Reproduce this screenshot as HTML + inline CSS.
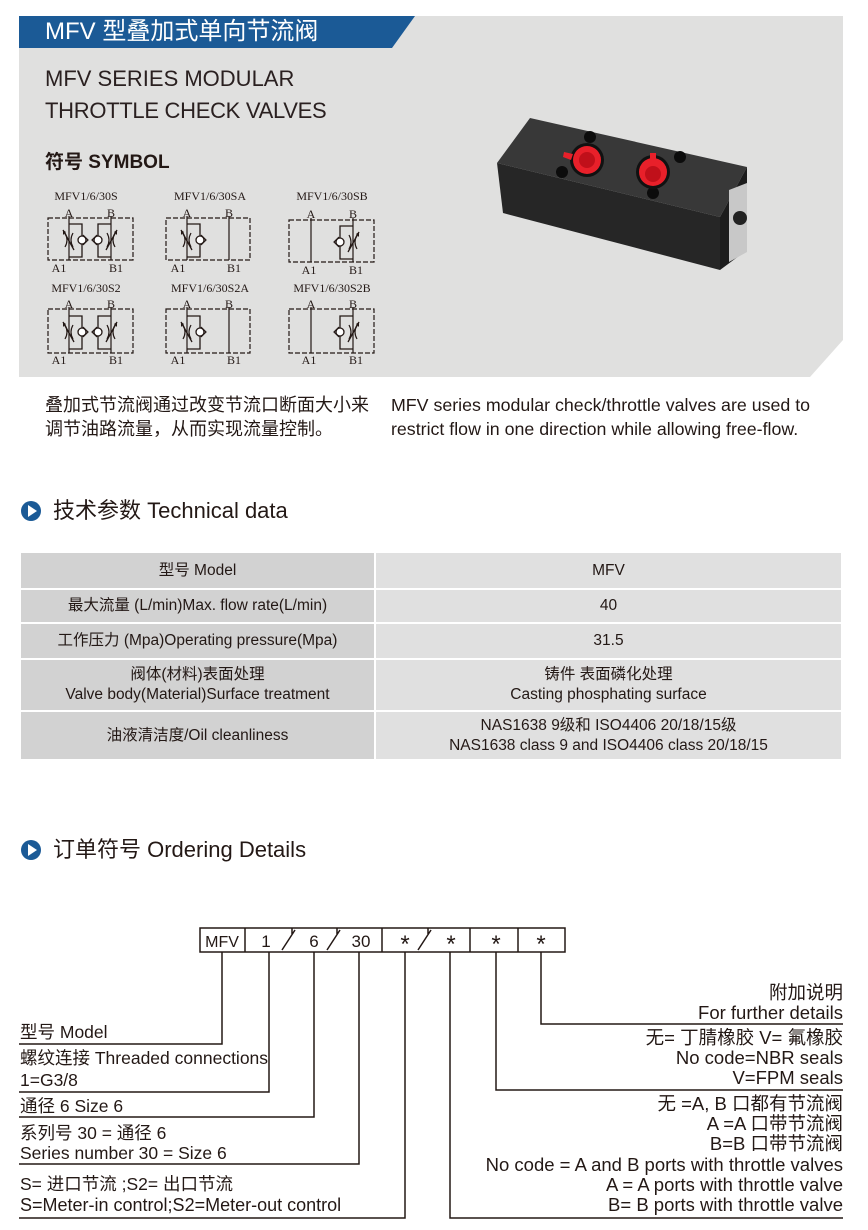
<!DOCTYPE html>
<html><head><meta charset="utf-8">
<style>
html,body{margin:0;padding:0;background:#fff;}
body{width:868px;height:1230px;position:relative;overflow:hidden;font-family:"Liberation Sans","Noto Sans CJK SC",sans-serif;color:#231815;}
.a{position:absolute;white-space:nowrap;}
.t{font-size:15px;color:#231815;}
.o{font-size:17.5px;line-height:20px;color:#231815;}
.r{text-align:right;right:25px;font-size:18.5px;}
table{position:absolute;left:19px;top:551px;width:824px;border-collapse:collapse;font-size:15.5px;}
td{text-align:center;padding:0;border:2px solid #fff;line-height:20px;}
td.l{background:#d2d2d2;width:353px;}
td.v{background:#e0e0e0;}
</style></head><body>
<div class="a" style="left:19px;top:16px;width:824px;height:361px;background:#e0e0df;"></div>
<svg class="a" style="left:0;top:0" width="868" height="400">
<polygon points="810,377 843,340 843,377" fill="#fff"/>
<polygon points="19,16 415,16 392,48 19,48" fill="#1b5a96"/>
</svg>
<div class="a" style="left:45px;top:16px;font-size:24px;color:#fff;line-height:32px;">MFV 型叠加式单向节流阀</div>
<div class="a" style="left:45px;top:64px;font-size:22px;line-height:30px;color:#2a2020;">MFV SERIES MODULAR</div>
<div class="a" style="left:45px;top:96px;font-size:22px;line-height:30px;color:#2a2020;letter-spacing:-0.3px;">THROTTLE CHECK VALVES</div>
<div class="a" style="left:45px;top:150px;font-size:19px;font-weight:bold;line-height:26px;">符号 SYMBOL</div>

<svg class="a" style="left:0;top:180px" width="400" height="195" font-family="Liberation Serif, serif" font-size="12" fill="#231815">
<defs>
<g id="tc">
 <path d="M0,0 H13 V33 H0" fill="none" stroke="#231815" stroke-width="1.3"/>
 <path d="M-4,9 Q0,16 -4,23 M4,9 Q0,16 4,23" fill="none" stroke="#231815" stroke-width="1.2"/>
 <path d="M-6,6 L5,26" stroke="#231815" stroke-width="1.3"/>
 <path d="M-6,6 l0,5 l3,-3z" fill="#231815"/>
 <circle cx="13" cy="16" r="4" fill="#fff" stroke="#231815" stroke-width="1.3"/>
 <path d="M14,11 L19,16 L14,21" fill="none" stroke="#231815" stroke-width="1.2"/>
</g>
</defs>
<g fill="none" stroke="#231815" stroke-width="1.2">
 <rect x="48" y="38" width="85" height="42" stroke-dasharray="5,2"/>
 <rect x="166" y="38" width="84" height="42" stroke-dasharray="5,2"/>
 <rect x="289" y="40" width="85" height="42" stroke-dasharray="5,2"/>
 <rect x="48" y="129" width="85" height="44" stroke-dasharray="5,2"/>
 <rect x="166" y="129" width="84" height="44" stroke-dasharray="5,2"/>
 <rect x="289" y="129" width="85" height="44" stroke-dasharray="5,2"/>
 <path d="M69,36V80 M111,36V80 M187,36V80 M229,36V80 M311,38V82 M353,38V82"/>
 <path d="M69,127V173 M111,127V173 M187,127V173 M229,127V173 M311,127V173 M353,127V173"/>
</g>
<use href="#tc" x="69" y="44"/>
<use href="#tc" transform="translate(111,44) scale(-1,1)"/>
<use href="#tc" x="187" y="44"/>
<use href="#tc" transform="translate(353,46) scale(-1,1)"/>
<use href="#tc" x="69" y="136"/>
<use href="#tc" transform="translate(111,136) scale(-1,1)"/>
<use href="#tc" x="187" y="136"/>
<use href="#tc" transform="translate(353,136) scale(-1,1)"/>
<text x="86" y="20" text-anchor="middle">MFV1/6/30S</text>
<text x="210" y="20" text-anchor="middle">MFV1/6/30SA</text>
<text x="332" y="20" text-anchor="middle">MFV1/6/30SB</text>
<text x="86" y="112" text-anchor="middle">MFV1/6/30S2</text>
<text x="210" y="112" text-anchor="middle">MFV1/6/30S2A</text>
<text x="332" y="112" text-anchor="middle">MFV1/6/30S2B</text>
<g text-anchor="middle">
<text x="69" y="37">A</text><text x="111" y="37">B</text><text x="187" y="37">A</text><text x="229" y="37">B</text><text x="311" y="38">A</text><text x="353" y="38">B</text>
<text x="69" y="128">A</text><text x="111" y="128">B</text><text x="187" y="128">A</text><text x="229" y="128">B</text><text x="311" y="128">A</text><text x="353" y="128">B</text>
<text x="59" y="92">A1</text><text x="116" y="92">B1</text><text x="178" y="92">A1</text><text x="234" y="92">B1</text><text x="309" y="94">A1</text><text x="356" y="94">B1</text>
<text x="59" y="184">A1</text><text x="116" y="184">B1</text><text x="178" y="184">A1</text><text x="234" y="184">B1</text><text x="309" y="184">A1</text><text x="356" y="184">B1</text>
</g>
</svg>

<svg class="a" style="left:0;top:0" width="868" height="300">
<polygon points="497,163 530,118 747,167 720,217" fill="#383838"/>
<polygon points="497,163 720,217 720,270 503,213" fill="#262626"/>
<polygon points="720,217 747,167 747,250 720,270" fill="#1c1c1c"/>
<polygon points="729,190 747,183 747,252 729,262" fill="#c8c8c8"/>
<circle cx="740" cy="218" r="7" fill="#222"/>
<circle cx="590" cy="137" r="6" fill="#0c0c0c"/>
<circle cx="562" cy="172" r="6" fill="#0c0c0c"/>
<circle cx="680" cy="157" r="6" fill="#0c0c0c"/>
<circle cx="653" cy="193" r="6" fill="#0c0c0c"/>
<circle cx="587" cy="160" r="17" fill="#111"/>
<circle cx="587" cy="160" r="14" fill="#e8202a"/>
<circle cx="587" cy="160" r="8" fill="#c0101a"/>
<polygon points="564,152 573,154 571,160 563,157" fill="#e8202a"/>
<circle cx="653" cy="172" r="17" fill="#111"/>
<circle cx="653" cy="172" r="14" fill="#e8202a"/>
<circle cx="653" cy="174" r="8" fill="#c0101a"/>
<rect x="650" y="153" width="6" height="7" fill="#e8202a"/>
</svg>

<div class="a t" style="left:45px;top:393px;font-size:18px;line-height:24px;">叠加式节流阀通过改变节流口断面大小来<br>调节油路流量，从而实现流量控制。</div>
<div class="a t" style="left:391px;top:393px;font-size:17.8px;line-height:24px;">MFV series modular check/throttle valves are used to<br>restrict flow in one direction while allowing free-flow.</div>

<svg class="a" style="left:20px;top:500px" width="24" height="24"><circle cx="11" cy="11" r="10" fill="#1b5a96"/><polygon points="8,5 17,11 8,17" fill="#fff"/></svg>
<div class="a" style="left:53px;top:496px;font-size:22px;line-height:30px;">技术参数 Technical data</div>
<svg class="a" style="left:20px;top:839px" width="24" height="24"><circle cx="11" cy="11" r="10" fill="#1b5a96"/><polygon points="8,5 17,11 8,17" fill="#fff"/></svg>
<div class="a" style="left:53px;top:835px;font-size:22px;line-height:30px;">订单符号 Ordering Details</div>

<table>
<tr style="height:37px"><td class="l">型号 Model</td><td class="v">MFV</td></tr>
<tr style="height:34px"><td class="l">最大流量 (L/min)Max. flow rate(L/min)</td><td class="v">40</td></tr>
<tr style="height:36px"><td class="l">工作压力 (Mpa)Operating pressure(Mpa)</td><td class="v">31.5</td></tr>
<tr style="height:52px"><td class="l">阀体(材料)表面处理<br>Valve body(Material)Surface treatment</td><td class="v">铸件 表面磷化处理<br>Casting phosphating surface</td></tr>
<tr style="height:49px"><td class="l">油液清洁度/Oil cleanliness</td><td class="v">NAS1638 9级和 ISO4406 20/18/15级<br>NAS1638 class 9 and ISO4406 class 20/18/15</td></tr>
</table>

<svg class="a" style="left:0;top:900px" width="868" height="330" font-family="Liberation Sans, sans-serif" fill="#231815">
<g fill="none" stroke="#231815" stroke-width="1.5">
<rect x="200" y="28" width="365" height="24"/>
<path d="M245,28V52 M382,28V52 M470,28V52 M518,28V52"/>
<path d="M282,50 L295,30 M292,28V34 M327,50 L340,30 M337,28V34 M418,50 L431,30 M428,28V34"/>
<path d="M222,52V144H19 M269,52V192H19 M314,52V217H19 M359,52V264H19 M405,52V318H19"/>
<path d="M450,52V318H843 M496,52V190H843 M541,52V124H843"/>
</g>
<g font-size="17" text-anchor="middle">
<text x="222" y="47" font-size="16">MFV</text>
<text x="266" y="47">1</text><text x="314" y="47">6</text><text x="361" y="47">30</text>
<text x="405" y="52" font-size="24">*</text><text x="451" y="52" font-size="24">*</text><text x="496" y="52" font-size="24">*</text><text x="541" y="52" font-size="24">*</text>
</g>
</svg>
<div class="a o" style="left:20px;top:1022px;">型号 Model</div>
<div class="a o" style="left:20px;top:1048px;">螺纹连接 Threaded connections</div>
<div class="a o" style="left:20px;top:1070px;">1=G3/8</div>
<div class="a o" style="left:20px;top:1096px;">通径 6 Size 6</div>
<div class="a o" style="left:20px;top:1123px;">系列号 30 = 通径 6</div>
<div class="a o" style="left:20px;top:1143px;">Series number 30 = Size 6</div>
<div class="a o" style="left:20px;top:1174px;">S= 进口节流 ;S2= 出口节流</div>
<div class="a o" style="left:20px;top:1195px;font-size:18px;">S=Meter-in control;S2=Meter-out control</div>

<div class="a o r" style="top:983px;line-height:20px;">附加说明<br>For further details</div>
<div class="a o r" style="top:1028px;line-height:20px;">无= 丁腈橡胶 V= 氟橡胶<br>No code=NBR seals<br>V=FPM seals</div>
<div class="a o r" style="top:1094px;line-height:20.2px;">无 =A, B 口都有节流阀<br>A =A 口带节流阀<br>B=B 口带节流阀<br>No code = A and B ports with throttle valves<br>A = A ports with throttle valve<br>B= B ports with throttle valve</div>
</body></html>
